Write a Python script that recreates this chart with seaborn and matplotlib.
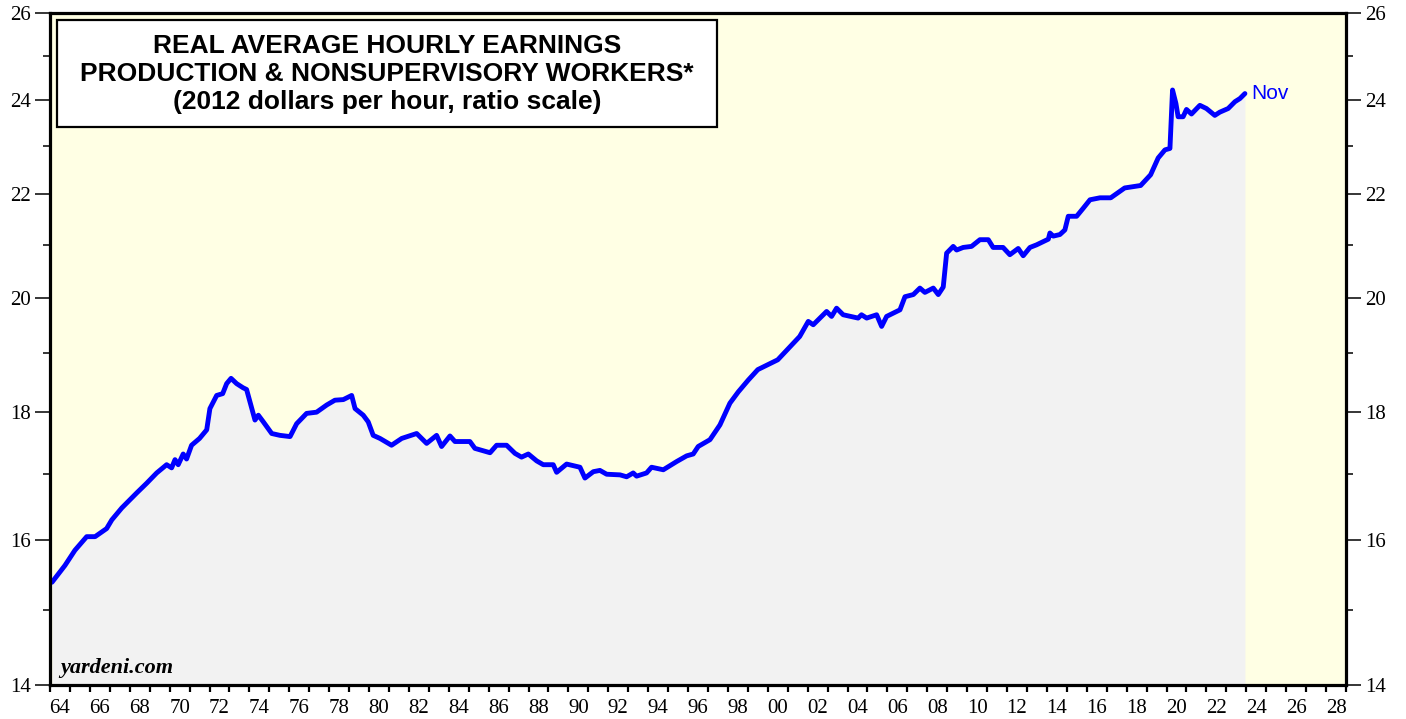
import numpy as np
import matplotlib.pyplot as plt
import pandas as pd
import seaborn as sns
from matplotlib.patches import Rectangle
from matplotlib.ticker import FixedLocator, FixedFormatter, NullFormatter

# Real average hourly earnings, 2012 dollars
years = [1964.1, 1964.75, 1965.25, 1965.84, 1966.26, 1966.84, 1967.1, 1967.6, 1968.35, 1968.85,
         1969.35, 1969.85, 1970.1, 1970.27, 1970.43, 1970.68, 1970.85, 1971.1, 1971.5, 1971.86,
         1972.02, 1972.36, 1972.66, 1972.86, 1973.08, 1973.36, 1973.68, 1973.86, 1974.28, 1974.45,
         1974.7, 1975.12, 1975.53, 1976.04, 1976.37, 1976.87, 1977.37, 1977.88, 1978.29, 1978.71,
         1979.13, 1979.3, 1979.71, 1979.96, 1980.21, 1980.55, 1981.13, 1981.64, 1982.39, 1982.89,
         1983.39, 1983.64, 1984.06, 1984.31, 1985.06, 1985.31, 1986.07, 1986.4, 1986.9, 1987.32,
         1987.65, 1987.99, 1988.41, 1988.74, 1989.24, 1989.41, 1989.91, 1990.58, 1990.83, 1991.25,
         1991.58, 1991.92, 1992.59, 1992.92, 1993.25, 1993.42, 1993.92, 1994.17, 1994.76, 1995.43,
         1995.93, 1996.26, 1996.51, 1997.1, 1997.6, 1998.1, 1998.52, 1999.02, 1999.5, 2000.5,
         2001.6, 2002.03, 2002.28, 2002.62, 2002.95, 2003.2, 2003.45, 2003.78, 2004.53, 2004.7,
         2004.96, 2005.46, 2005.71, 2005.96, 2006.63, 2006.88, 2007.3, 2007.63, 2007.88, 2008.3,
         2008.55, 2008.8, 2008.97, 2009.3, 2009.47, 2009.8, 2010.22, 2010.64, 2011.06, 2011.3,
         2011.8, 2012.14, 2012.56, 2012.81, 2013.15, 2013.48, 2014.07, 2014.15, 2014.32, 2014.65,
         2014.9, 2015.07, 2015.49, 2015.82, 2016.16, 2016.66, 2017.2, 2017.9, 2018.7, 2019.2,
         2019.58, 2019.92, 2020.17, 2020.3, 2020.47, 2020.58, 2020.83, 2021.0, 2021.25, 2021.67,
         2022.0, 2022.42, 2022.67, 2023.09, 2023.43, 2023.68, 2023.93]
earnings = [15.39, 15.63, 15.85, 16.05, 16.05, 16.17, 16.30, 16.48, 16.71, 16.86,
            17.02, 17.15, 17.10, 17.23, 17.15, 17.32, 17.24, 17.46, 17.57, 17.71,
            18.06, 18.28, 18.31, 18.48, 18.57, 18.48, 18.41, 18.38, 17.87, 17.95,
            17.84, 17.65, 17.62, 17.60, 17.81, 17.98, 18.00, 18.12, 18.20, 18.21,
            18.28, 18.06, 17.95, 17.84, 17.62, 17.57, 17.46, 17.57, 17.65, 17.49,
            17.62, 17.44, 17.61, 17.52, 17.52, 17.41, 17.34, 17.46, 17.46, 17.33,
            17.27, 17.32, 17.21, 17.15, 17.15, 17.03, 17.16, 17.11, 16.94, 17.04,
            17.06, 17.00, 16.99, 16.96, 17.02, 16.97, 17.02, 17.11, 17.07, 17.20,
            17.29, 17.32, 17.44, 17.55, 17.79, 18.15, 18.34, 18.54, 18.72, 18.89,
            19.30, 19.57, 19.51, 19.63, 19.75, 19.66, 19.81, 19.69, 19.63, 19.69,
            19.63, 19.69, 19.48, 19.66, 19.78, 20.02, 20.06, 20.18, 20.10, 20.18,
            20.06, 20.20, 20.84, 20.97, 20.90, 20.95, 20.97, 21.10, 21.10, 20.95,
            20.95, 20.81, 20.93, 20.79, 20.95, 21.00, 21.11, 21.23, 21.17, 21.20,
            21.29, 21.56, 21.56, 21.72, 21.89, 21.93, 21.93, 22.13, 22.18, 22.40,
            22.75, 22.92, 22.95, 24.22, 23.92, 23.63, 23.63, 23.79, 23.69, 23.88,
            23.81, 23.66, 23.73, 23.81, 23.96, 24.03, 24.14]

y_ticks = [14, 16, 18, 20, 22, 24, 26]
y_minor = [15, 17, 19, 21, 23, 25]
x_labels = ['64', '66', '68', '70', '72', '74', '76', '78', '80', '82', '84', '86', '88', '90', '92',
            '94', '96', '98', '00', '02', '04', '06', '08', '10', '12', '14', '16', '18', '20', '22',
            '24', '26', '28']

df = pd.DataFrame({'year': years, 'value': earnings})

sns.set_style('ticks')
plt.rcParams['font.family'] = ['Liberation Serif', 'DejaVu Serif']
plt.rcParams['text.color'] = 'black'
plt.rcParams['xtick.color'] = 'black'
plt.rcParams['ytick.color'] = 'black'

fig = plt.figure(figsize=(14.06, 7.19), dpi=100)
ax = fig.add_axes([50 / 1406, 34 / 719, 1296 / 1406, 672 / 719])
ax.set_facecolor('#FFFFE4')

ax.fill_between(df['year'], 14, df['value'], color='#F2F2F2', lw=0, zorder=1)
sns.lineplot(data=df, x='year', y='value', ax=ax, color='#0000FF', lw=3.5,
             sort=False, estimator=None, zorder=3)

ax.set_yscale('log')
ax.set_xlim(1964, 2029)
ax.set_ylim(14, 26)
ax.yaxis.set_major_locator(FixedLocator(y_ticks))
ax.yaxis.set_major_formatter(FixedFormatter([str(t) for t in y_ticks]))
ax.yaxis.set_minor_locator(FixedLocator(y_minor))
ax.yaxis.set_minor_formatter(NullFormatter())
ax.tick_params(axis='y', which='major', length=11, width=1.1, labelsize=15,
               left=True, right=True, labelleft=True, labelright=True, pad=3)
ax.tick_params(axis='y', which='minor', length=5, width=1.1, left=True, right=True)

# year ticks at every Jan, labels centred mid-year
ax.xaxis.set_major_locator(FixedLocator(np.arange(1964, 2030)))
ax.xaxis.set_major_formatter(NullFormatter())
ax.xaxis.set_minor_locator(FixedLocator(np.arange(1964.5, 2029, 2)))
ax.xaxis.set_minor_formatter(FixedFormatter(x_labels))
ax.tick_params(axis='x', which='major', length=5, width=1.6, direction='out')
ax.tick_params(axis='x', which='minor', length=0, labelsize=15, pad=10)

for s in ax.spines.values():
    s.set_visible(True)
    s.set_linewidth(2.3)
    s.set_color('black')
    s.set_zorder(5)

ax.set_xlabel('')
ax.set_ylabel('')

# title box
ax.add_patch(Rectangle((0.0054, 0.830), 0.5093, 0.1596, transform=ax.transAxes,
                       facecolor='white', edgecolor='black', lw=1.6, zorder=6))
title_lines = ['REAL AVERAGE HOURLY EARNINGS', 'PRODUCTION & NONSUPERVISORY WORKERS*',
               '(2012 dollars per hour, ratio scale)']
for line, yy in zip(title_lines, [0.951, 0.9092, 0.8676]):
    ax.text(0.26, yy, line, transform=ax.transAxes, ha='center', va='center',
            fontsize=19, fontweight='bold', family=['Liberation Sans', 'DejaVu Sans'], zorder=7)

ax.text(years[-1] + 0.3, earnings[-1], 'Nov', color='#0000FF', fontsize=15,
        family=['Liberation Sans', 'DejaVu Sans'], ha='left', va='center', zorder=7)
ax.text(0.008, 0.010, 'yardeni.com', transform=ax.transAxes, fontsize=16,
        fontweight='bold', fontstyle='italic', ha='left', va='bottom', zorder=7)

fig.savefig('out.png', dpi=100)
